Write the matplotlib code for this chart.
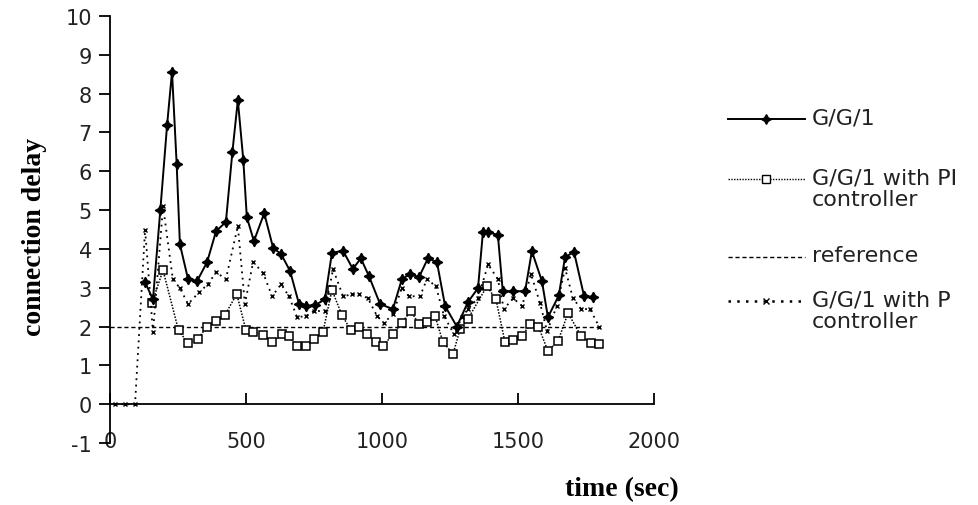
import matplotlib
matplotlib.use('Agg')
import matplotlib.pyplot as plt
from matplotlib.lines import Line2D

# G/G/1 (no controller)
gg1_time = [129, 158, 185, 210, 228, 245, 257, 287, 320, 357, 390, 426, 450, 470, 490, 503,
            529, 567, 600, 629, 662, 695, 720, 754, 790, 816, 857, 893, 922, 952, 993, 1040,
            1073, 1103, 1136, 1169, 1202, 1232, 1275, 1316, 1353, 1371, 1390, 1426, 1444,
            1482, 1526, 1551, 1588, 1610, 1650, 1673, 1706, 1743, 1776]
gg1_delay = [3.14, 2.7, 5.0, 7.2, 8.56, 6.2, 4.12, 3.22, 3.17, 3.66, 4.46, 4.69, 6.5, 7.83, 6.3, 4.82,
             4.2, 4.92, 4.02, 3.87, 3.43, 2.58, 2.53, 2.55, 2.7, 3.9, 3.95, 3.48, 3.76, 3.3, 2.58, 2.45,
             3.22, 3.35, 3.27, 3.76, 3.66, 2.53, 2.0, 2.63, 2.99, 4.43, 4.43, 4.36, 2.91,
             2.91, 2.91, 3.94, 3.17, 2.24, 2.8, 3.79, 3.92, 2.78, 2.76]

# G/G/1 with PI controller
pi_time = [154, 195, 252, 287, 323, 356, 389, 422, 466, 500, 526, 563, 596, 632, 658, 688,
           721, 750, 783, 816, 853, 886, 915, 945, 978, 1004, 1040, 1073, 1106, 1136, 1165,
           1195, 1224, 1261, 1287, 1316, 1386, 1419, 1452, 1482, 1515, 1544, 1575, 1610,
           1647, 1684, 1732, 1768, 1798]
pi_delay = [2.6, 3.45, 1.9, 1.57, 1.68, 1.99, 2.14, 2.29, 2.84, 1.9, 1.86, 1.78, 1.6, 1.8, 1.75, 1.49,
            1.49, 1.68, 1.86, 2.94, 2.29, 1.9, 1.98, 1.8, 1.6, 1.5, 1.8, 2.1, 2.4, 2.06, 2.11,
            2.27, 1.6, 1.29, 1.93, 2.2, 3.04, 2.7, 1.6, 1.65, 1.75, 2.06, 2.0, 1.37,
            1.62, 2.35, 1.75, 1.57, 1.55]

# reference delay
ref_time = [0, 1800]
ref_delay = [2, 2]

# G/G/1 with P controller
p_time = [18, 55, 92, 129, 158, 195, 231, 257, 287, 327, 360, 390, 426, 470, 496, 526, 563,
          596, 629, 658, 688, 721, 750, 790, 820, 857, 890, 915, 948, 982, 1007, 1040, 1073,
          1099, 1140, 1165, 1198, 1228, 1265, 1294, 1316, 1353, 1390, 1426, 1448, 1482,
          1515, 1548, 1581, 1607, 1643, 1673, 1702, 1732, 1765, 1798]
p_delay = [0, 0, 0, 4.5, 1.85, 5.1, 3.22, 2.99, 2.58, 2.88, 3.09, 3.4, 3.22, 4.59, 2.58, 3.66, 3.38,
           2.78, 3.09, 2.78, 2.24, 2.27, 2.4, 2.4, 3.48, 2.78, 2.83, 2.83, 2.73, 2.27, 2.09, 2.32, 3.0,
           2.78, 2.78, 3.22, 3.04, 2.27, 1.8, 2.24, 2.45, 2.73, 3.6, 3.22, 2.45, 2.73,
           2.53, 3.35, 2.6, 1.88, 2.53, 3.5, 2.73, 2.45, 2.45, 2.0]

y_ticks = list(range(-1, 11))
x_ticks = [0, 500, 1000, 1500, 2000]

plt.rcParams['axes.unicode_minus'] = False

W, H = 979, 506
fig = plt.figure(figsize=(W / 100, H / 100), dpi=100)
ax = fig.add_axes([110 / W, 1 - 444 / H, 544 / W, 427 / H])

star = (4, 1, 0)
ax.plot(ref_time, ref_delay, color='black', lw=1.0, ls=(0, (3, 2)))
ax.plot(pi_time, pi_delay, color='black', lw=1.1, ls=(0, (1, 1)),
        marker='s', ms=6, mfc='white', mec='black', mew=1.1)
ax.plot(p_time, p_delay, color='black', lw=1.3, ls=(0, (1, 2.5)),
        marker='x', ms=3.5, mew=1.0)
ax.plot(gg1_time, gg1_delay, color='black', lw=1.4, marker=star, ms=7.5)

ax.set_xlim(0, 2000)
ax.set_ylim(-1, 10)
ax.set_xticks(x_ticks)
ax.set_yticks(y_ticks)
for s in ['top', 'right']:
    ax.spines[s].set_visible(False)
ax.spines['bottom'].set_position(('data', 0))
ax.spines['bottom'].set_linewidth(1.3)
ax.spines['left'].set_linewidth(1.3)
ax.tick_params(axis='x', direction='in', length=8, width=1.3, pad=19,
               labelsize=15, labelcolor='#222222')
ax.tick_params(axis='y', direction='out', length=8, width=1.3, pad=5,
               labelsize=15, labelcolor='#222222')

fig.text(35 / W, 1 - 237 / H, 'connection delay', rotation=90, ha='center', va='center',
         family='Liberation Serif', fontweight='bold', fontsize=20)
fig.text(622 / W, 1 - 490 / H, 'time (sec)', ha='center', va='center',
         family='Liberation Serif', fontweight='bold', fontsize=20)

# legend drawn by hand to keep the uneven spacing of the original
legend = [
    (120, dict(ls='-', lw=1.4, marker=star, ms=7), 'G/G/1'),
    (180, dict(ls=(0, (1, 1)), lw=1.0, marker='s', ms=6, mfc='white', mec='black'),
     'G/G/1 with PI\ncontroller'),
    (258, dict(ls=(0, (3, 2)), lw=1.0), 'reference'),
    (302, dict(ls=(0, (1, 2.5)), lw=1.8, marker='x', ms=4, mew=1.0),
     'G/G/1 with P\ncontroller'),
]
for y, style, label in legend:
    fy = 1 - y / H
    fig.add_artist(Line2D([728 / W, 805 / W], [fy, fy], color='black', **style, markevery=[]))
    if 'marker' in style:
        fig.add_artist(Line2D([766 / W], [fy], color='black', **style))
    fig.text(812 / W, 1 - (y - 12) / H, label, ha='left', va='top', fontsize=16,
             color='#222222', linespacing=1.15)

fig.savefig('out.png', dpi=100)
